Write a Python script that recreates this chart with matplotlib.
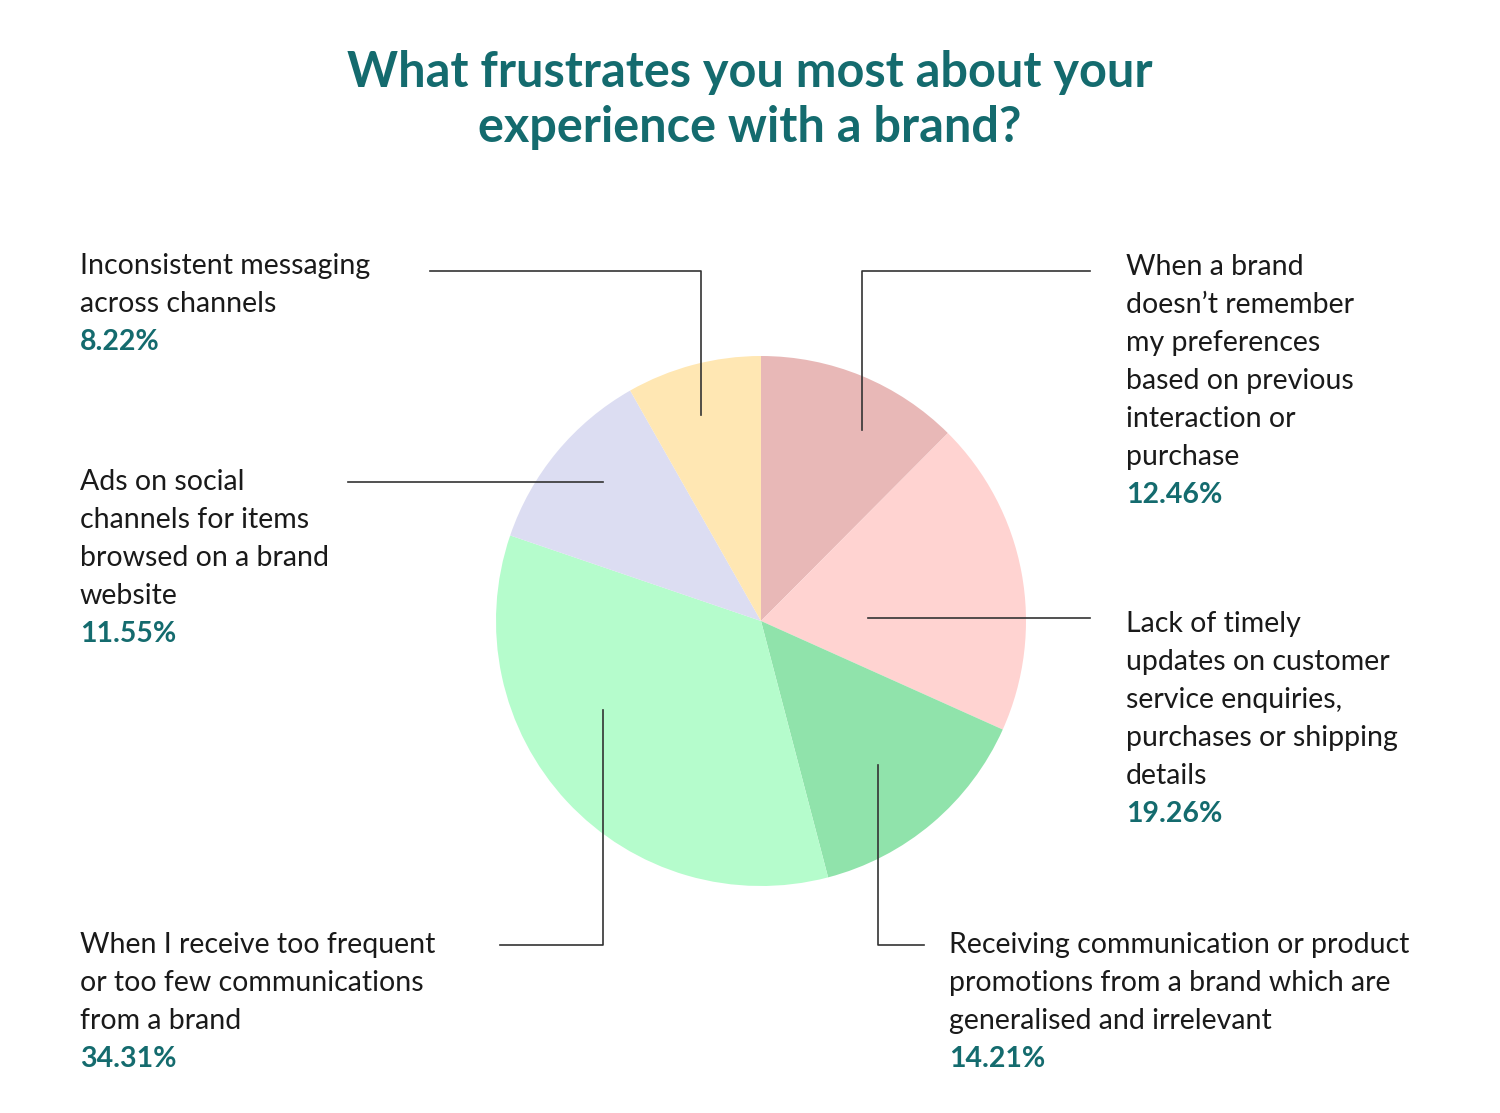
import matplotlib
matplotlib.use("Agg")
import matplotlib.pyplot as plt

categories = [
    "When a brand\ndoesn’t remember\nmy preferences\nbased on previous\ninteraction or\npurchase",
    "Lack of timely\nupdates on customer\nservice enquiries,\npurchases or shipping\ndetails",
    "Receiving communication or product\npromotions from a brand which are\ngeneralised and irrelevant",
    "When I receive too frequent\nor too few communications\nfrom a brand",
    "Ads on social\nchannels for items\nbrowsed on a brand\nwebsite",
    "Inconsistent messaging\nacross channels",
]
values = [12.46, 19.26, 14.21, 34.31, 11.55, 8.22]
colors = ["#E8B8B7", "#FFD3D1", "#90E3AB", "#B5FCCC", "#DCDDF2", "#FFE7B3"]
title = "What frustrates you most about your\nexperience with a brand?"

W, H = 1500, 1113
TEAL = "#146B6E"
FONT = "Lato"

fig = plt.figure(figsize=(15, 11.13), dpi=100)
ax = fig.add_axes([0, 0, 1, 1])
ax.set_xlim(0, W)
ax.set_ylim(0, H)
ax.set_aspect("equal")
ax.axis("off")

def Y(y):
    return H - y

ax.pie(values, colors=colors, startangle=90, counterclock=False,
       center=(761, Y(621)), radius=265, frame=True)
ax.set_xlim(0, W)
ax.set_ylim(0, H)
ax.axis("off")

ax.text(750, Y(100), title, ha="center", va="center", fontsize=35,
        fontweight="bold", color=TEAL, family=FONT, linespacing=1.25)

# label positions: (x, first line center y)
label_pos = [(1126, 267), (1126, 624), (949, 945), (80, 945), (80, 482), (80, 266)]
leaders = [
    [(1090, 271), (862, 271), (862, 430)],
    [(1090, 618), (868, 618)],
    [(924, 945), (878, 945), (878, 765)],
    [(500, 945), (603, 945), (603, 710)],
    [(348, 482), (603, 482)],
    [(430, 271), (701, 271), (701, 415)],
]
step = 38
for cat, val, (x, y0), pts in zip(categories, values, label_pos, leaders):
    lines = cat.split("\n")
    for i, ln in enumerate(lines):
        ax.text(x, Y(y0 + i * step), ln, ha="left", va="center",
                fontsize=20.5, color="#1a1a1a", family=FONT)
    ax.text(x, Y(y0 + len(lines) * step), f"{val:.2f}%", ha="left", va="center",
            fontsize=20.5, fontweight="bold", color=TEAL, family=FONT)
    ax.plot([p[0] for p in pts], [Y(p[1]) for p in pts], color="#333333", lw=1.2)

fig.savefig("out.png", dpi=100, facecolor="white")
